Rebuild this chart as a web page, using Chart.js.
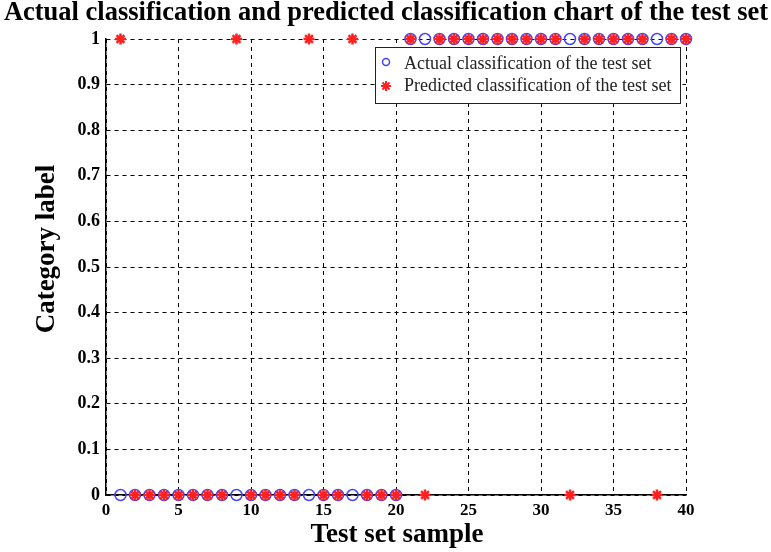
<!DOCTYPE html>
<html>
<head>
<meta charset="utf-8">
<script src="https://cdn.jsdelivr.net/npm/chart.js@4"></script>
<style>
  html, body { margin: 0; padding: 0; background: #fff; }
  #wrap { width: 771px; height: 552px; }
</style>
</head>
<body>
<div id="wrap"><canvas id="myChart" width="771" height="552"></canvas></div>
<script>
// test set samples and their labels
const samples = [1,2,3,4,5,6,7,8,9,10,11,12,13,14,15,16,17,18,19,20,
                 21,22,23,24,25,26,27,28,29,30,31,32,33,34,35,36,37,38,39,40];
const actualClass = [0,0,0,0,0,0,0,0,0,0,0,0,0,0,0,0,0,0,0,0,
                     1,1,1,1,1,1,1,1,1,1,1,1,1,1,1,1,1,1,1,1];
const predictedClass = [1,0,0,0,0,0,0,0,1,0,0,0,0,1,0,0,1,0,0,0,
                        1,0,1,1,1,1,1,1,1,1,1,0,1,1,1,1,1,0,1,1];
const xTicks = [0,5,10,15,20,25,30,35,40];
const yTicks = [0,0.1,0.2,0.3,0.4,0.5,0.6,0.7,0.8,0.9,1];
const yTickLabels = ["0","0.1","0.2","0.3","0.4","0.5","0.6","0.7","0.8","0.9","1"];

const titleText = "Actual classification and predicted classification chart of the test set";
const xTitle = "Test set sample";
const yTitle = "Category label";
const legendLabels = ["Actual classification of the test set", "Predicted classification of the test set"];

const serif = "'Liberation Serif', 'Times New Roman', serif";

// titles + legend box drawn by hand so they sit where the original has them
const decorations = {
    id: 'decorations',
    afterDraw(chart) {
        const ctx = chart.ctx;
        ctx.save();
        ctx.fillStyle = '#000';
        ctx.textAlign = 'center';
        ctx.textBaseline = 'middle';
        ctx.font = 'bold 26.5px ' + serif;
        ctx.fillText(titleText, 386, 13);

        ctx.font = 'bold 27px ' + serif;
        ctx.fillText(xTitle, 397, 535);

        ctx.save();
        ctx.translate(47, 249);
        ctx.rotate(-Math.PI / 2);
        ctx.fillText(yTitle, 0, 0);
        ctx.restore();

        // legend
        const bx = 375, by = 47, bw = 305, bh = 56;
        ctx.fillStyle = '#fff';
        ctx.fillRect(bx, by, bw, bh);
        ctx.strokeStyle = '#222';
        ctx.lineWidth = 1;
        ctx.strokeRect(bx + 0.5, by + 0.5, bw, bh);

        ctx.textAlign = 'left';
        ctx.font = '18px ' + serif;
        ctx.fillStyle = '#222';
        ctx.fillText(legendLabels[0], 404, 64);
        ctx.fillText(legendLabels[1], 404, 86);

        ctx.strokeStyle = '#4444ff';
        ctx.lineWidth = 1.5;
        ctx.beginPath();
        ctx.arc(386, 62, 3.5, 0, Math.PI * 2);
        ctx.stroke();

        ctx.strokeStyle = '#ff2020';
        ctx.lineWidth = 2;
        ctx.beginPath();
        ctx.moveTo(381, 86); ctx.lineTo(391, 86);
        ctx.moveTo(386, 81); ctx.lineTo(386, 91);
        ctx.moveTo(382.5, 82.5); ctx.lineTo(389.5, 89.5);
        ctx.moveTo(389.5, 82.5); ctx.lineTo(382.5, 89.5);
        ctx.stroke();
        ctx.restore();
    }
};

function graphIt() {
    const ctx = document.getElementById('myChart').getContext('2d');
    const chart = new Chart(ctx, {
        type: 'scatter',
        data: {
            datasets: [{
                label: legendLabels[0],
                data: samples.map((s, i) => ({ x: s, y: actualClass[i] })),
                pointStyle: 'circle',
                pointRadius: 5.5,
                borderColor: '#4444ff',
                backgroundColor: 'rgba(0,0,0,0)',
                borderWidth: 1.5,
                clip: false,
                order: 2
            }, {
                label: legendLabels[1],
                data: samples.map((s, i) => ({ x: s, y: predictedClass[i] })),
                pointStyle: 'star',
                pointRadius: 5.5,
                borderColor: '#ff2020',
                backgroundColor: '#ff2020',
                borderWidth: 2.5,
                clip: false,
                order: 1
            }]
        },
        options: {
            responsive: false,
            animation: false,
            layout: { padding: { left: 0, top: 39, right: 85, bottom: 0 } },
            plugins: {
                legend: { display: false },
                tooltip: { enabled: false },
                title: { display: false }
            },
            scales: {
                x: {
                    type: 'linear',
                    min: 0,
                    max: 40,
                    afterBuildTicks: (scale) => { scale.ticks = xTicks.map(v => ({ value: v })); },
                    afterFit: (scale) => { scale.height = 57; },
                    grid: { color: '#000', lineWidth: 1, drawTicks: false },
                    border: { color: '#000', width: 1.5, dash: [4, 4] },
                    ticks: {
                        color: '#000',
                        padding: 5,
                        maxRotation: 0,
                        font: { family: serif, size: 17, weight: 'bold' }
                    }
                },
                y: {
                    type: 'linear',
                    min: 0,
                    max: 1,
                    afterBuildTicks: (scale) => { scale.ticks = yTicks.map(v => ({ value: v })); },
                    afterFit: (scale) => { scale.width = 106; },
                    grid: { color: '#000', lineWidth: 1, drawTicks: false },
                    border: { color: '#000', width: 1.5, dash: [4, 4] },
                    ticks: {
                        color: '#000',
                        padding: 6,
                        font: { family: serif, size: 18, weight: 'bold' },
                        callback: (value, index) => yTickLabels[index]
                    }
                }
            }
        },
        plugins: [decorations]
    });
}

graphIt();
</script>
</body>
</html>
